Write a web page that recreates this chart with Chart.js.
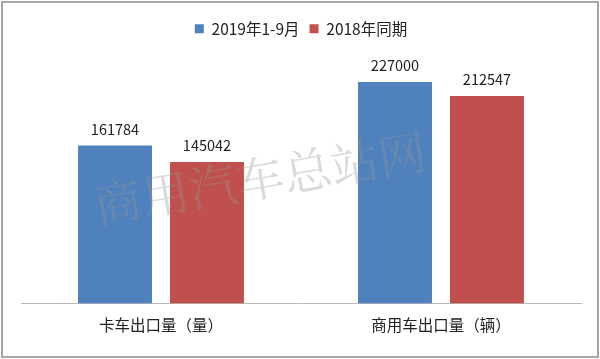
<!DOCTYPE html>
<html><head><meta charset="utf-8">
<script src="https://cdn.jsdelivr.net/npm/chart.js@4.4.0/dist/chart.umd.min.js"></script>
<style>html,body{margin:0;padding:0;background:#fff;}#wrap{width:600px;height:359px;position:relative;}</style>
</head><body><div id="wrap"><canvas id="c" width="600" height="359"></canvas></div>
<script>
const categories = ["卡车出口量（量）", "商用车出口量（辆）"];
const series2019 = [161784, 227000];
const series2018 = [145042, 212547];
const seriesNames = ["2019年1-9月", "2018年同期"];
const watermark = "商用汽车总站网";

const FONT = "'Noto Sans CJK SC', 'Noto Sans', sans-serif";

const legendMargin = {
  id: 'legendMargin',
  beforeInit(chart) {
    const orig = chart.legend.fit;
    chart.legend.fit = function () { orig.bind(chart.legend)(); this.height += 13; };
  }
};

const labelsPlugin = {
  id: 'valueLabels',
  afterDatasetsDraw(chart) {
    const ctx = chart.ctx;
    ctx.save();
    ctx.font = "14.5px " + FONT;
    ctx.fillStyle = "#222";
    ctx.textAlign = "center";
    ctx.textBaseline = "bottom";
    chart.data.datasets.forEach((ds, i) => {
      chart.getDatasetMeta(i).data.forEach((bar, j) => {
        ctx.fillText(String(ds.data[j]), bar.x, bar.y - 9);
      });
    });
    ctx.restore();
  },
  afterDraw(chart) {
    const ctx = chart.ctx;
    ctx.save();
    ctx.translate(260, 178);
    ctx.rotate(-0.165);
    ctx.font = "48px 'Noto Serif CJK SC', 'Noto Sans CJK SC', serif";
    ctx.fillStyle = "rgba(150,150,150,0.35)";
    ctx.textAlign = "center";
    ctx.textBaseline = "middle";
    ctx.fillText(watermark, 0, 0);
    ctx.restore();
    ctx.save();
    ctx.strokeStyle = "#a6a6a6";
    ctx.lineWidth = 2;
    ctx.strokeRect(2, 2, 596, 355);
    ctx.restore();
  }
};

new Chart(document.getElementById('c'), {
  type: 'bar',
  data: {
    labels: categories,
    datasets: [
      { label: seriesNames[0], data: series2019, backgroundColor: '#4F81BD', categoryPercentage: 0.657, barPercentage: 0.804 },
      { label: seriesNames[1], data: series2018, backgroundColor: '#C0504D', categoryPercentage: 0.657, barPercentage: 0.804 }
    ]
  },
  options: {
    responsive: false,
    animation: false,
    layout: { padding: { left: 21, right: 19, top: 11, bottom: 13 } },
    plugins: {
      legend: {
        position: 'top',
        labels: { boxWidth: 9, boxHeight: 9, padding: 10, color: '#222', font: { size: 15.5, family: FONT } }
      },
      tooltip: { enabled: false }
    },
    scales: {
      x: {
        grid: { display: false, drawTicks: false },
        border: { display: true, color: '#b8b8b8', width: 1 },
        ticks: { color: '#222', padding: 12, font: { size: 15.5, family: FONT } }
      },
      y: {
        display: false,
        min: 0, max: 250000
      }
    }
  },
  plugins: [legendMargin, labelsPlugin]
});
</script></body></html>
